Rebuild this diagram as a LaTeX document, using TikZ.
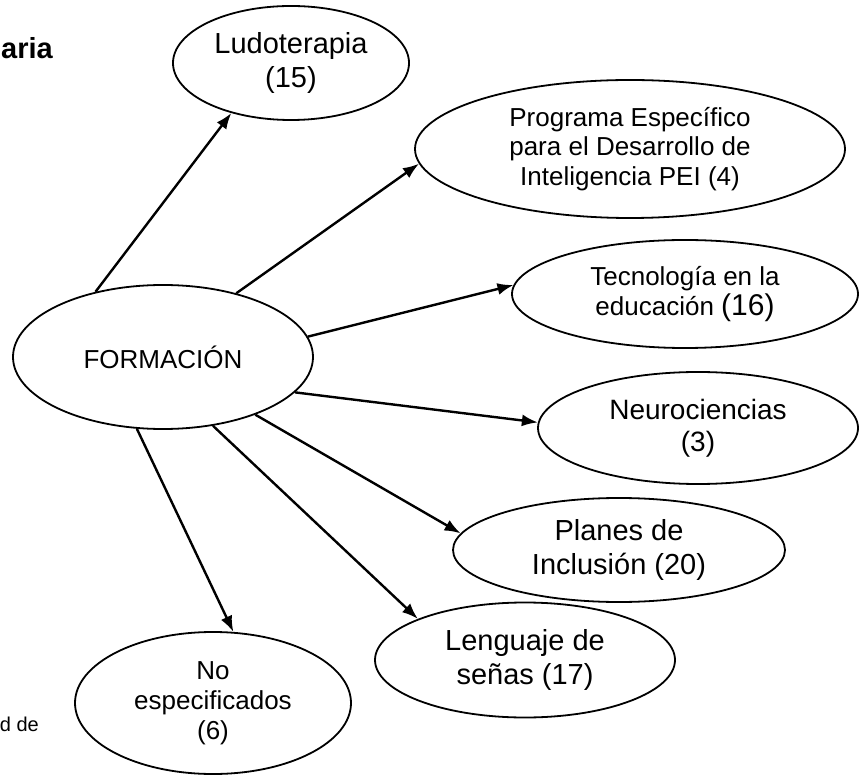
\documentclass[tikz,border=0pt]{standalone}
\usepackage{fontspec}
\setmainfont{Liberation Sans}
\usetikzlibrary{shapes.geometric,arrows.meta}
\tikzset{
  >={Latex[length=16pt,width=12pt]},
}
\tikzstyle{bubble}=[draw,ellipse,line width=1.8pt,inner sep=0pt,align=center]
\tikzstyle{link}=[->,line width=2.4pt]
\newcommand{\fs}[2]{\fontsize{#1}{#2}\selectfont}

\begin{document}
\begin{tikzpicture}[x=1pt,y=1pt]
    \useasboundingbox (0,0) rectangle (866,774);
    % cut-off texts at the left border
    \node[anchor=base east,inner sep=0pt,font=\fs{29}{33}\bfseries] (top) at (53,715) {aria};
    \node[anchor=base east,inner sep=0pt,font=\fs{20}{23}] (bot) at (39,43) {d de};
    % centre
    \node[bubble,minimum width=300pt,minimum height=144pt,font=\fs{26}{30}] (form) at (163,417) {FORMACIÓN};
    % outer bubbles
    \node[bubble,minimum width=236pt,minimum height=114pt,font=\fs{29}{34}] (ludo) at (291,711) {Ludoterapia\\(15)};
    \node[bubble,minimum width=430pt,minimum height=138pt,font=\fs{26}{29.5}] (prog) at (630,625) {Programa Específico\\para el Desarrollo de\\Inteligencia PEI (4)};
    \node[bubble,minimum width=346pt,minimum height=108pt,font=\fs{26}{30}] (tec) at (685,480) {Tecnología en la\\educación {\fs{30}{34}(16)}};
    \node[bubble,minimum width=320pt,minimum height=112pt,font=\fs{28}{32}] (neuro) at (698,346) {Neurociencias\\(3)};
    \node[bubble,minimum width=332pt,minimum height=104pt,font=\fs{29}{34}] (planes) at (619,224) {Planes de\\Inclusión (20)};
    \node[bubble,minimum width=300pt,minimum height=115pt,font=\fs{29}{34}] (leng) at (525,114) {Lenguaje de\\señas (17)};
    \node[bubble,minimum width=276pt,minimum height=142pt,font=\fs{26}{30}] (noesp) at (213,71) {No\\especificados\\(6)};
    % arrows
    \draw[link] (form.136) -- (ludo.220);
    \draw[link] (form.41) -- (prog.184);
    \draw[link] (form.8) -- (tec.177);
    \draw[link] (form.-15) -- (neuro.178);
    \draw[link] (form.-32) -- (planes.174);
    \draw[link] (form.-54) -- (leng.159);
    \draw[link] (form.-110) -- (noesp.74);
\end{tikzpicture}
\end{document}
